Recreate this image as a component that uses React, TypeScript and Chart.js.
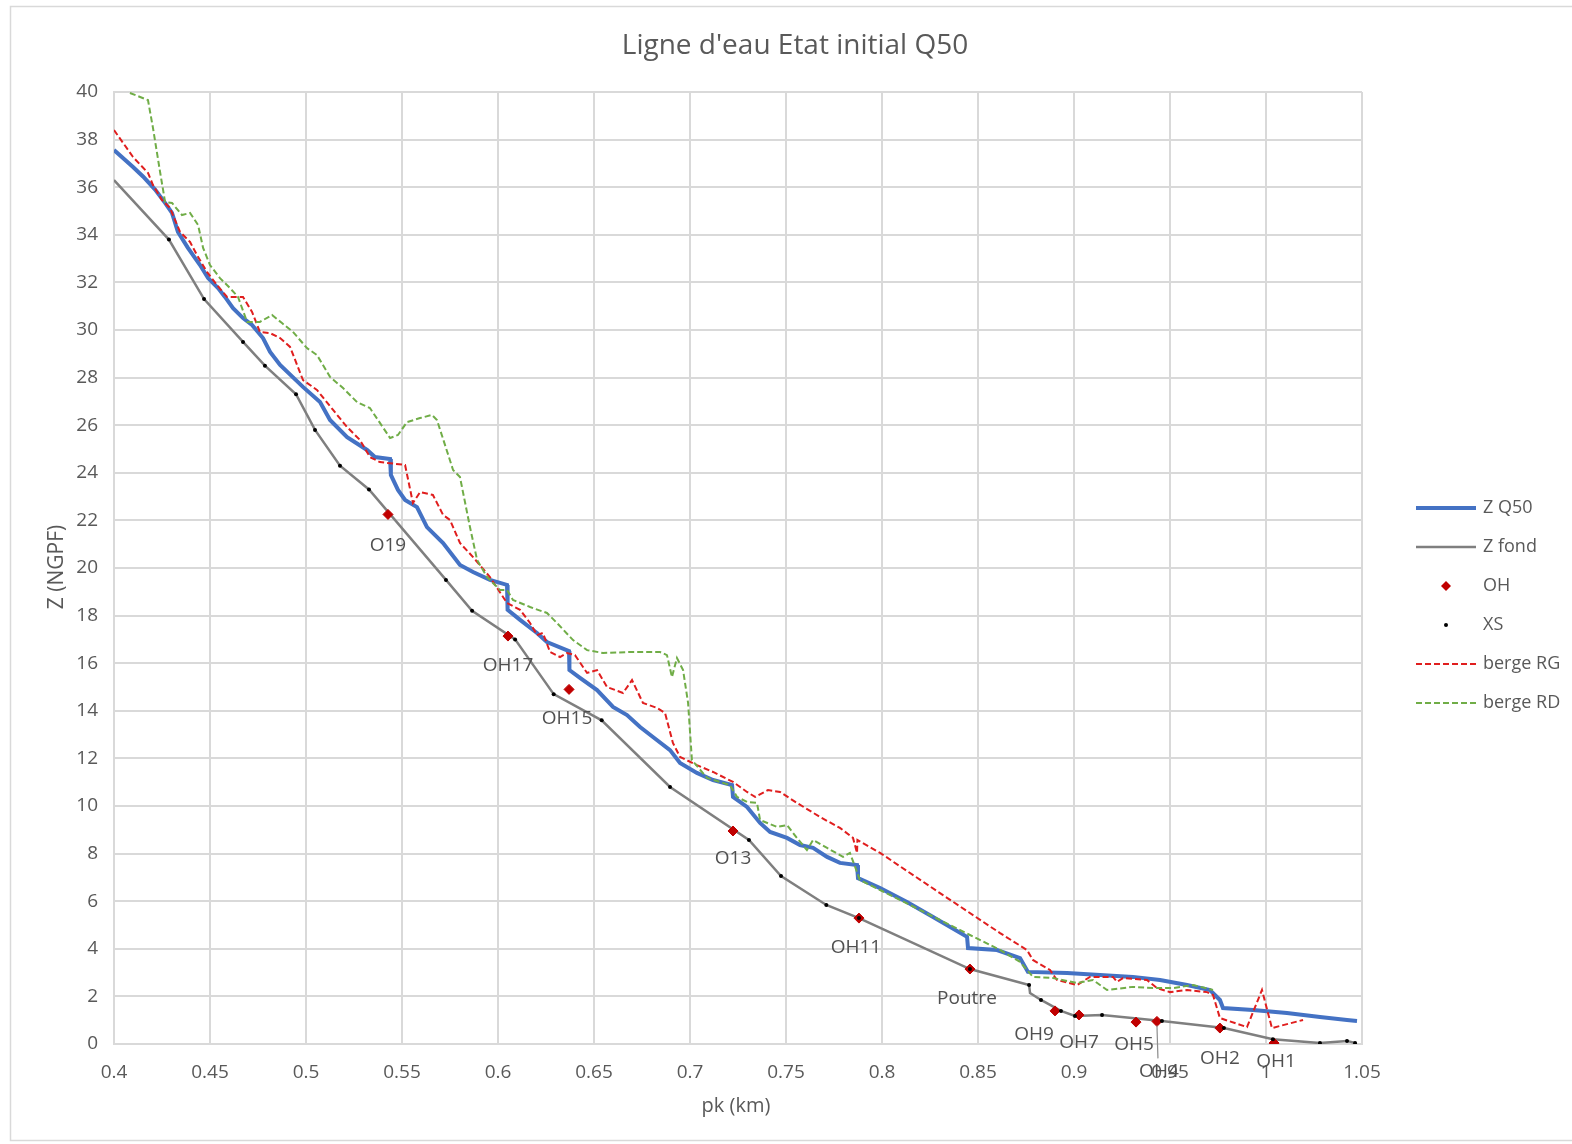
import React, { useEffect, useRef } from "react";
import { Chart, registerables } from "chart.js";

Chart.register(...registerables);

const FONT = "'Open Sans', 'Noto Sans', sans-serif";
const TEXT = "#595959";
const LABEL_TEXT = "#505050";

// ---------------- data ----------------
const xTickMin = 0.4;
const xTickMax = 1.05;
const xTickStep = 0.05;
const yTickMin = 0;
const yTickMax = 40;
const yTickStep = 2;

const zQ50X = [
  0.4, 0.4099, 0.4151, 0.4214, 0.4266, 0.4302, 0.4333, 0.4385, 0.4448, 0.449, 0.4542, 0.4578, 0.462, 0.4672,
  0.4719, 0.4776, 0.4813, 0.4865, 0.4984, 0.5073, 0.5125, 0.5214, 0.5318, 0.5359, 0.5438, 0.5442, 0.5479,
  0.5516, 0.5578, 0.563, 0.5714, 0.5802, 0.587, 0.5958, 0.6047, 0.605, 0.6115, 0.6203, 0.6255, 0.637, 0.6372,
  0.6427, 0.6516, 0.6599, 0.6672, 0.674, 0.6807, 0.6896, 0.6948, 0.7036, 0.712, 0.7219, 0.7224, 0.7297,
  0.7365, 0.7417, 0.7505, 0.7573, 0.7641, 0.7714, 0.7781, 0.787, 0.7875, 0.799, 0.813, 0.8266, 0.8443,
  0.8448, 0.8599, 0.8719, 0.876, 0.8964, 0.9135, 0.9307, 0.9448, 0.9589, 0.9708, 0.976, 0.9776, 0.9932,
  1.0109, 1.0281, 1.0422, 1.0474,
];
const zQ50Y = [
  37.56, 36.85, 36.45, 35.9, 35.34, 34.92, 34.12, 33.45, 32.73, 32.18, 31.76, 31.39, 30.92, 30.5, 30.21,
  29.66, 29.08, 28.53, 27.61, 26.97, 26.22, 25.5, 24.96, 24.66, 24.58, 23.91, 23.28, 22.86, 22.56, 21.72,
  21.05, 20.13, 19.83, 19.5, 19.29, 18.24, 17.82, 17.27, 16.89, 16.51, 15.71, 15.38, 14.87, 14.16, 13.82,
  13.32, 12.9, 12.35, 11.81, 11.39, 11.09, 10.88, 10.38, 9.96, 9.29, 8.91, 8.66, 8.36, 8.24, 7.86, 7.61,
  7.52, 6.97, 6.55, 5.97, 5.34, 4.5, 4.03, 3.95, 3.61, 3.03, 2.98, 2.9, 2.82, 2.69, 2.48, 2.27, 1.85, 1.51,
  1.43, 1.3, 1.13, 1.01, 0.97,
];

const zFondX = [
  0.4, 0.4286, 0.4469, 0.4672, 0.4786, 0.4948, 0.5047, 0.5177, 0.5328, 0.5729, 0.5865, 0.6089, 0.629, 0.654,
  0.6896, 0.7307, 0.7474, 0.771, 0.788, 0.8458, 0.8766, 0.8771, 0.8828, 0.8932, 0.9005, 0.9146, 0.9458,
  0.9781, 1.0036, 1.0281, 1.0422, 1.0464,
];
const zFondY = [
  36.3, 33.8, 31.3, 29.5, 28.5, 27.3, 25.8, 24.3, 23.3, 19.5, 18.2, 17.0, 14.7, 13.6, 10.8, 8.57, 7.06, 5.84,
  5.29, 3.15, 2.48, 2.14, 1.85, 1.39, 1.18, 1.22, 0.97, 0.67, 0.2, 0.04, 0.13, 0.04,
];

const xsX = [
  0.4286, 0.4469, 0.4672, 0.4786, 0.4948, 0.5047, 0.5177, 0.5328, 0.5729, 0.5865, 0.6089, 0.629, 0.654,
  0.6896, 0.7307, 0.7474, 0.771, 0.788, 0.8458, 0.8766, 0.8828, 0.8932, 0.9005, 0.9146, 0.9458, 0.9781,
  1.0036, 1.0281, 1.0422, 1.0464,
];
const xsY = [
  33.8, 31.3, 29.5, 28.5, 27.3, 25.8, 24.3, 23.3, 19.5, 18.2, 17.0, 14.7, 13.6, 10.8, 8.57, 7.06, 5.84, 5.29,
  3.15, 2.48, 1.85, 1.39, 1.18, 1.22, 0.97, 0.67, 0.2, 0.04, 0.13, 0.04,
];

const ohNames = ["O19", "OH17", "OH15", "O13", "OH11", "Poutre", "OH9", "OH7", "OH5", "OH4", "OH2", "OH1"];
const ohX = [0.5427, 0.6052, 0.637, 0.7224, 0.788, 0.8458, 0.8901, 0.9026, 0.9323, 0.9432, 0.976, 1.0042];
const ohY = [22.25, 17.14, 14.9, 8.95, 5.29, 3.15, 1.39, 1.22, 0.92, 0.95, 0.67, 0.04];

const bergeRGX = [
  0.4, 0.4099, 0.4177, 0.4203, 0.425, 0.4292, 0.4313, 0.4344, 0.4396, 0.4432, 0.4484, 0.4536, 0.4589, 0.4672,
  0.4719, 0.476, 0.4813, 0.4865, 0.4917, 0.4984, 0.5057, 0.5141, 0.5214, 0.5281, 0.5333, 0.5385, 0.5516,
  0.5557, 0.5594, 0.5661, 0.5714, 0.575, 0.5802, 0.587, 0.5958, 0.6047, 0.6115, 0.6167, 0.6203, 0.6234,
  0.6271, 0.6323, 0.6359, 0.6401, 0.6464, 0.6516, 0.6568, 0.6651, 0.6698, 0.6755, 0.6828, 0.687, 0.6911,
  0.6948, 0.7036, 0.712, 0.7224, 0.7297, 0.7339, 0.7406, 0.7469, 0.7557, 0.7677, 0.7781, 0.7849, 0.787,
  0.7872, 0.799, 0.8302, 0.8615, 0.8755, 0.8786, 0.8875, 0.8911, 0.9016, 0.9083, 0.9203, 0.9224, 0.9255,
  0.938, 0.9432, 0.95, 0.9589, 0.9693, 0.9724, 0.976, 0.9901, 0.9979, 1.0031, 1.0193,
];
const bergeRGY = [
  38.4, 37.27, 36.6, 36.09, 35.46, 35.13, 34.71, 34.12, 33.7, 33.15, 32.44, 31.89, 31.39, 31.39, 30.76, 29.92,
  29.87, 29.66, 29.29, 27.9, 27.48, 26.64, 25.92, 25.38, 24.66, 24.45, 24.33, 22.73, 23.19, 23.07, 22.23,
  22.02, 21.05, 20.46, 19.62, 18.53, 18.24, 17.69, 17.18, 17.27, 16.47, 16.26, 16.43, 16.34, 15.59, 15.71,
  15.0, 14.75, 15.29, 14.33, 14.12, 13.91, 12.65, 12.06, 11.72, 11.43, 11.01, 10.59, 10.38, 10.67, 10.59,
  10.13, 9.54, 9.08, 8.66, 8.03, 8.57, 8.03, 6.34, 4.66, 3.95, 3.53, 3.11, 2.69, 2.48, 2.82, 2.82, 2.61,
  2.77, 2.69, 2.35, 2.18, 2.27, 2.18, 2.06, 1.09, 0.71, 2.27, 0.67, 1.01,
];

const bergeRDX = [
  0.4083, 0.4177, 0.4203, 0.424, 0.4266, 0.4302, 0.4354, 0.4396, 0.4438, 0.4464, 0.45, 0.4552, 0.4604, 0.4646,
  0.4693, 0.476, 0.4823, 0.4875, 0.4932, 0.5005, 0.5057, 0.5125, 0.5193, 0.5266, 0.5333, 0.5438, 0.5479,
  0.5526, 0.5594, 0.5656, 0.5682, 0.5766, 0.5802, 0.5854, 0.5891, 0.5943, 0.601, 0.6047, 0.6078, 0.6167,
  0.6255, 0.6307, 0.6391, 0.6464, 0.6547, 0.6688, 0.6844, 0.688, 0.6906, 0.6932, 0.6964, 0.699, 0.701,
  0.7089, 0.7208, 0.7245, 0.7297, 0.7349, 0.7365, 0.7453, 0.7505, 0.7557, 0.7609, 0.7641, 0.7714, 0.7797,
  0.7833, 0.7885, 0.799, 0.8302, 0.8458, 0.8615, 0.8719, 0.8786, 0.8891, 0.9016, 0.9099, 0.9172, 0.9307,
  0.9411, 0.9516, 0.962, 0.9724,
];
const bergeRDY = [
  39.96, 39.66, 38.49, 36.64, 35.38, 35.34, 34.83, 34.92, 34.41, 33.45, 32.73, 32.18, 31.76, 31.39, 30.34,
  30.34, 30.63, 30.29, 29.92, 29.24, 28.95, 28.03, 27.56, 26.97, 26.72, 25.46, 25.59, 26.13, 26.3, 26.43,
  26.22, 24.12, 23.82, 21.72, 20.34, 19.62, 19.08, 19.08, 18.66, 18.36, 18.11, 17.69, 16.97, 16.55, 16.43,
  16.47, 16.47, 16.34, 15.42, 16.22, 15.71, 14.33, 11.93, 11.18, 10.88, 10.38, 10.17, 10.13, 9.41, 9.12,
  9.2, 8.66, 8.15, 8.57, 8.24, 7.86, 8.03, 6.89, 6.47, 5.21, 4.58, 3.95, 3.45, 2.82, 2.77, 2.56, 2.69, 2.27,
  2.4, 2.35, 2.35, 2.48, 2.27,
];

const chartTitle = "Ligne d'eau Etat initial Q50";
const xAxisTitle = "pk (km)";
const yAxisTitle = "Z (NGPF)";
const seriesNames = ["Z Q50", "Z fond", "OH", "XS", "berge RG", "berge RD"];

// ---------------- styling ----------------
// label nudges (pixels) for OH data labels: [dx, dy]
const labelNudge: Record<string, [number, number]> = {
  O19: [0, 31],
  OH17: [0, 30],
  OH15: [-2, 29],
  O13: [0, 28],
  OH11: [-3, 29],
  Poutre: [-3, 30],
  OH9: [-21, 24],
  OH7: [0, 28],
  OH5: [-2, 22],
  OH4: [2, 50],
  OH2: [0, 31],
  OH1: [2, 19],
};

const toPts = (xs: number[], ys: number[]) => xs.map((x, i) => ({ x, y: ys[i] }));

const CHART_LEFT = 114;
const CHART_RIGHT = 1362;
const CHART_TOP = 92;
const CHART_BOTTOM = 1044;
const W = 1572;
const H = 1144;

const decorPlugin = {
  id: "decor",
  beforeDraw(chart: any) {
    const ctx = chart.ctx;
    ctx.save();
    ctx.fillStyle = "#ffffff";
    ctx.fillRect(0, 0, chart.width, chart.height);
    ctx.strokeStyle = "#d9d9d9";
    ctx.lineWidth = 1.5;
    ctx.strokeRect(10.5, 6.5, 1620, 1134);
    ctx.restore();
  },
  afterDatasetsDraw(chart: any) {
    const ctx = chart.ctx;
    const xs = chart.scales.x;
    const ys = chart.scales.y;
    ctx.save();
    ctx.font = `19px ${FONT}`;
    ctx.fillStyle = LABEL_TEXT;
    ctx.textAlign = "center";
    ctx.textBaseline = "middle";
    ohNames.forEach((name, i) => {
      const px = xs.getPixelForValue(ohX[i]);
      const py = ys.getPixelForValue(ohY[i]);
      const [dx, dy] = labelNudge[name] || [0, 28];
      if (name === "OH4") {
        ctx.strokeStyle = "#8c8c8c";
        ctx.lineWidth = 1.2;
        ctx.beginPath();
        ctx.moveTo(px, py + 4);
        ctx.lineTo(px + dx * 0.5, py + dy - 13);
        ctx.stroke();
      }
      ctx.fillText(name, px + dx, py + dy);
    });
    ctx.restore();
  },
  afterDraw(chart: any) {
    const ctx = chart.ctx;
    ctx.save();
    // title
    ctx.fillStyle = TEXT;
    ctx.textAlign = "center";
    ctx.textBaseline = "middle";
    ctx.font = `28px ${FONT}`;
    ctx.fillText(chartTitle, 795, 46);
    // axis titles
    ctx.font = `20px ${FONT}`;
    ctx.fillText(xAxisTitle, 736, 1106);
    ctx.save();
    ctx.translate(57, 567);
    ctx.rotate(-Math.PI / 2);
    ctx.font = `21px ${FONT}`;
    ctx.fillText(yAxisTitle, 0, 0);
    ctx.restore();

    // legend
    const ds = chart.data.datasets;
    ctx.textAlign = "left";
    const x0 = 1416;
    const x1 = 1476;
    ds.forEach((d: any, i: number) => {
      const y = 508 + i * 39;
      ctx.save();
      if (d.showLine) {
        ctx.strokeStyle = d.borderColor;
        ctx.lineWidth = d.borderWidth;
        ctx.setLineDash(d.borderDash || []);
        ctx.beginPath();
        ctx.moveTo(x0, y);
        ctx.lineTo(x1, y);
        ctx.stroke();
      } else {
        const cx = (x0 + x1) / 2;
        ctx.fillStyle = d.pointBackgroundColor;
        if (d.pointStyle === "rectRot") {
          const r = d.pointRadius;
          ctx.beginPath();
          ctx.moveTo(cx, y - r);
          ctx.lineTo(cx + r, y);
          ctx.lineTo(cx, y + r);
          ctx.lineTo(cx - r, y);
          ctx.closePath();
          ctx.fill();
        } else {
          ctx.beginPath();
          ctx.arc(cx, y, d.pointRadius, 0, Math.PI * 2);
          ctx.fill();
        }
      }
      ctx.restore();
      ctx.fillStyle = TEXT;
      ctx.font = `18px ${FONT}`;
      ctx.fillText(d.label, 1483, y);
    });
    ctx.restore();
  },
};

export default function App() {
  const ref = useRef<HTMLCanvasElement | null>(null);

  useEffect(() => {
    document.body.style.margin = "0";
    const canvas = ref.current;
    if (!canvas) return;
    const chart = new Chart(canvas, {
      type: "scatter",
      data: {
        datasets: [
          {
            label: seriesNames[0],
            data: toPts(zQ50X, zQ50Y),
            showLine: true,
            borderColor: "#4472C4",
            backgroundColor: "#4472C4",
            borderWidth: 4,
            pointRadius: 0,
            tension: 0,
            order: 6,
          },
          {
            label: seriesNames[1],
            data: toPts(zFondX, zFondY),
            showLine: true,
            borderColor: "#7f7f7f",
            backgroundColor: "#7f7f7f",
            borderWidth: 2.5,
            pointRadius: 0,
            tension: 0,
            order: 5,
          },
          {
            label: seriesNames[2],
            data: toPts(ohX, ohY),
            showLine: false,
            pointStyle: "rectRot",
            pointRadius: 5,
            pointBackgroundColor: "#C00000",
            pointBorderColor: "#C00000",
            pointBorderWidth: 1,
            backgroundColor: "#C00000",
            borderColor: "#C00000",
            order: 4,
          },
          {
            label: seriesNames[3],
            data: toPts(xsX, xsY),
            showLine: false,
            pointStyle: "circle",
            pointRadius: 2,
            pointBackgroundColor: "#000000",
            pointBorderColor: "#000000",
            pointBorderWidth: 0,
            backgroundColor: "#000000",
            borderColor: "#000000",
            order: 3,
          },
          {
            label: seriesNames[4],
            data: toPts(bergeRGX, bergeRGY),
            showLine: true,
            borderColor: "#E01E1E",
            backgroundColor: "#E01E1E",
            borderWidth: 2,
            borderDash: [6, 3],
            pointRadius: 0,
            tension: 0,
            order: 2,
          },
          {
            label: seriesNames[5],
            data: toPts(bergeRDX, bergeRDY),
            showLine: true,
            borderColor: "#70AD47",
            backgroundColor: "#70AD47",
            borderWidth: 2,
            borderDash: [6, 3],
            pointRadius: 0,
            tension: 0,
            order: 1,
          },
        ],
      },
      options: {
        animation: false,
        responsive: false,
        devicePixelRatio: 1,
        layout: {
          padding: { left: 0, top: CHART_TOP, right: W - CHART_RIGHT, bottom: 0 },
        },
        plugins: {
          legend: { display: false },
          title: { display: false },
          tooltip: { enabled: false },
        },
        scales: {
          x: {
            type: "linear",
            min: xTickMin,
            max: xTickMax,
            afterFit: (s: any) => {
              s.height = H - CHART_BOTTOM;
            },
            afterBuildTicks: (s: any) => {
              const ticks = [];
              const n = Math.round((xTickMax - xTickMin) / xTickStep);
              for (let i = 0; i <= n; i++) ticks.push({ value: +(xTickMin + i * xTickStep).toFixed(2) });
              s.ticks = ticks;
            },
            ticks: {
              color: TEXT,
              font: { family: FONT, size: 19 },
              padding: 17,
              maxRotation: 0,
              autoSkip: false,
              callback: (v: any) => String(+Number(v).toFixed(2)),
            },
            grid: { color: "#d9d9d9", lineWidth: 2, drawTicks: false },
            border: { color: "#d9d9d9", width: 2 },
          },
          y: {
            type: "linear",
            min: yTickMin,
            max: yTickMax,
            afterFit: (s: any) => {
              s.width = CHART_LEFT;
            },
            ticks: {
              stepSize: yTickStep,
              color: TEXT,
              font: { family: FONT, size: 19 },
              padding: 16,
              autoSkip: false,
            },
            grid: { color: "#d9d9d9", lineWidth: 2, drawTicks: false },
            border: { color: "#d9d9d9", width: 2 },
          },
        },
      },
      plugins: [decorPlugin],
    });
    return () => chart.destroy();
  }, []);

  return (
    <div style={{ position: "absolute", left: 0, top: 0, width: W, height: H, overflow: "hidden" }}>
      <canvas ref={ref} width={W} height={H} style={{ display: "block", width: W, height: H }} />
    </div>
  );
}
